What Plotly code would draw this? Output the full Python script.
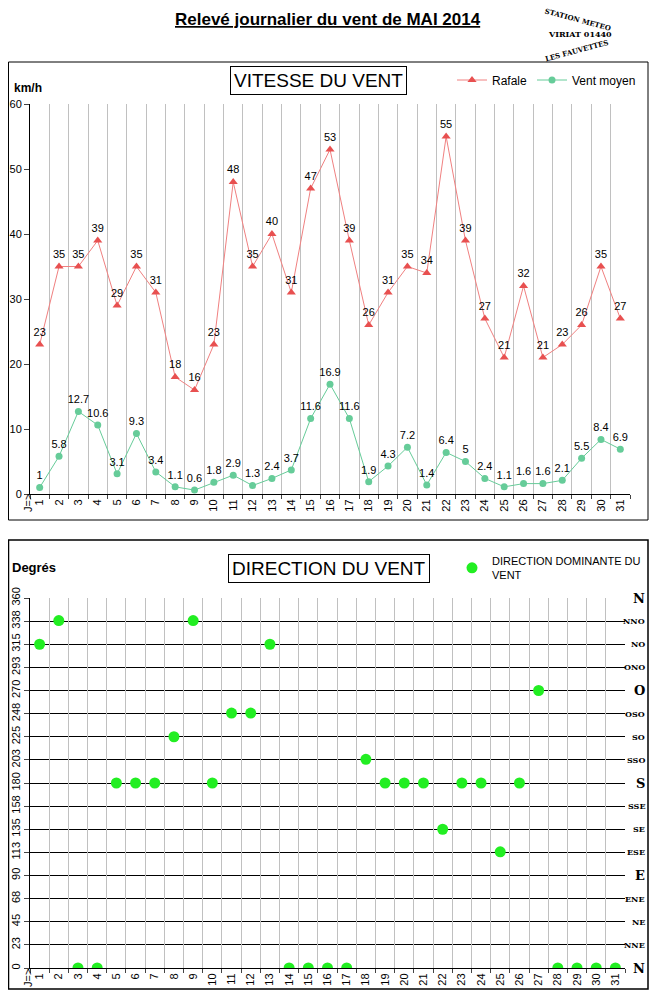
import plotly.graph_objects as go

days = list(range(1, 32))
rafale = [23,35,35,39,29,35,31,18,16,23,48,35,40,31,47,53,39,26,31,35,34,55,39,27,21,32,21,23,26,35,27]
moyen = [1,5.8,12.7,10.6,3.1,9.3,3.4,1.1,0.6,1.8,2.9,1.3,2.4,3.7,11.6,16.9,11.6,1.9,4.3,7.2,1.4,6.4,5,2.4,1.1,1.6,1.6,2.1,5.5,8.4,6.9]
direction = [315,338,0,0,180,180,180,225,338,180,248,248,315,0,0,0,0,203,180,180,180,135,180,180,113,180,270,0,0,0,0]
deg_vals = [0,22.5,45,67.5,90,112.5,135,157.5,180,202.5,225,247.5,270,292.5,315,337.5,360]
deg_labels = ["0","23","45","68","90","113","135","158","180","203","225","248","270","293","315","338","360"]
card_labels = ["N","NNE","NE","ENE","E","ESE","SE","SSE","S","SSO","SO","OSO","O","ONO","NO","NNO","N"]

W, H = 641, 982
OFF = 8
def px(x): return (x - OFF) / W
def py(y): return 1 - (y - OFF) / H

fig = go.Figure()
fig.add_trace(go.Scatter(x=days, y=rafale, mode="lines+markers+text", name="Rafale",
    line=dict(color="#f08080", width=1), marker=dict(symbol="triangle-up", size=8, color="#e85050"),
    text=[str(v) for v in rafale], textposition="top center", textfont=dict(size=11, color="black"),
    xaxis="x", yaxis="y", legend="legend"))
fig.add_trace(go.Scatter(x=days, y=moyen, mode="lines+markers+text", name="Vent moyen",
    line=dict(color="#66cc99", width=1), marker=dict(symbol="circle", size=7, color="#66cc99"),
    text=[str(v) for v in moyen], textposition="top center", textfont=dict(size=11, color="black"),
    xaxis="x", yaxis="y", legend="legend"))
fig.add_trace(go.Scatter(x=days, y=direction, mode="markers", name="DIRECTION DOMINANTE DU<br>VENT",
    marker=dict(size=11, color="#22ee22"), xaxis="x3", yaxis="y3", legend="legend2"))
fig.add_trace(go.Scatter(x=[None], y=[None], xaxis="x2", yaxis="y", showlegend=False))
fig.add_trace(go.Scatter(x=[None], y=[None], xaxis="x4", yaxis="y3", showlegend=False))

top_dom = [py(494), py(104)]
bot_dom = [py(968), py(598)]
xd_top = [px(30), px(630)]
xd_bot = [px(30), px(625)]

tickf = dict(size=11, color="black", family="Arial")
fig.update_layout(
    width=W, height=H, margin=dict(l=0, r=0, t=0, b=0, autoexpand=False),
    plot_bgcolor="white", paper_bgcolor="white", font=dict(family="Arial", color="black"),
    showlegend=True,
    legend=dict(orientation="h", x=px(452), y=py(80), yanchor="middle", font=dict(size=12), bgcolor="rgba(0,0,0,0)"),
    legend2=dict(x=px(452), y=py(568), yanchor="middle", font=dict(size=11), bgcolor="rgba(0,0,0,0)",
                 itemwidth=30),
    xaxis=dict(domain=xd_top, anchor="y", range=[0.5, 31.5], tickmode="array", tickvals=days,
               ticktext=[str(d) for d in days], tickangle=-90, tickfont=tickf, showgrid=False,
               showline=True, linecolor="black", ticks="", automargin=False),
    xaxis2=dict(domain=xd_top, anchor="y", overlaying="x", range=[0.5, 31.5], tick0=0.5, dtick=1,
                showgrid=True, gridcolor="#c0c0c0", showticklabels=False, ticks="outside", ticklen=4, automargin=False),
    yaxis=dict(domain=top_dom, anchor="x", range=[0, 60], dtick=10, showgrid=False, showline=True,
               linecolor="black", ticks="outside", tickfont=tickf, zeroline=False, automargin=False),
    xaxis3=dict(domain=xd_bot, anchor="y3", range=[0.5, 31.5], tickmode="array", tickvals=days,
                ticktext=[str(d) for d in days], tickangle=-90, tickfont=tickf, showgrid=False,
                showline=True, linecolor="black", automargin=False),
    xaxis4=dict(domain=xd_bot, anchor="y3", overlaying="x3", range=[0.5, 31.5], tick0=0.5, dtick=1,
                showgrid=True, gridcolor="#c0c0c0", showticklabels=False, ticks="outside", ticklen=4, automargin=False),
    yaxis3=dict(domain=bot_dom, anchor="x3", range=[0, 360], tickmode="array", tickvals=deg_vals,
                ticktext=deg_labels, tickangle=-90, tickfont=tickf, showgrid=True, gridcolor="black",
                gridwidth=1, showline=True, linecolor="black", ticks="outside", zeroline=False, automargin=False),
)

shapes = [
    dict(type="rect", xref="paper", yref="paper", x0=px(8.5), x1=px(648), y0=py(520), y1=py(62), line=dict(color="black", width=1)),
    dict(type="rect", xref="paper", yref="paper", x0=px(8.5), x1=px(648), y0=py(989), y1=py(540), line=dict(color="black", width=1.5)),
]
fig.update_layout(shapes=shapes)
ann = [
    dict(text="<b><u>Relevé journalier du vent de MAI 2014</u></b>", x=px(328), y=py(20), font=dict(size=17)),
    dict(text="VITESSE DU VENT", x=px(318), y=py(80), font=dict(size=19), bordercolor="black", borderwidth=1, borderpad=3),
    dict(text="DIRECTION DU VENT", x=px(329), y=py(568), font=dict(size=19), bordercolor="black", borderwidth=1, borderpad=3),
    dict(text="<b>km/h</b>", x=px(12), y=py(88), xanchor="left", font=dict(size=12)),
    dict(text="<b>Degrés</b>", x=px(10), y=py(567), xanchor="left", font=dict(size=13)),
    dict(text="J=>", x=px(20), y=py(503), font=dict(size=11), textangle=-90),
    dict(text="J=>", x=px(20), y=py(978), font=dict(size=11), textangle=-90),
    dict(text="<b>STATION METEO</b>", x=px(614), y=py(19), font=dict(size=7, family="DejaVu Serif"), textangle=15),
    dict(text="<b>VIRIAT 01440</b>", x=px(614), y=py(34), font=dict(size=8, family="DejaVu Serif")),
    dict(text="<b>LES FAUVETTES</b>", x=px(612), y=py(50), font=dict(size=7, family="DejaVu Serif"), textangle=-15),
]
for a in ann:
    a.update(xref="paper", yref="paper", showarrow=False, yanchor="middle")
for v, lab in zip(deg_vals, card_labels):
    big = lab in ("N", "S", "E", "O")
    ann.append(dict(text="<b>" + lab + "</b>", x=px(647), y=v, xref="paper", yref="y3", xanchor="right",
                    yanchor="middle", showarrow=False,
                    font=dict(family="DejaVu Serif", size=13 if big else 8, color="black")))
fig.update_layout(annotations=ann)
fig.write_html("out.html")
